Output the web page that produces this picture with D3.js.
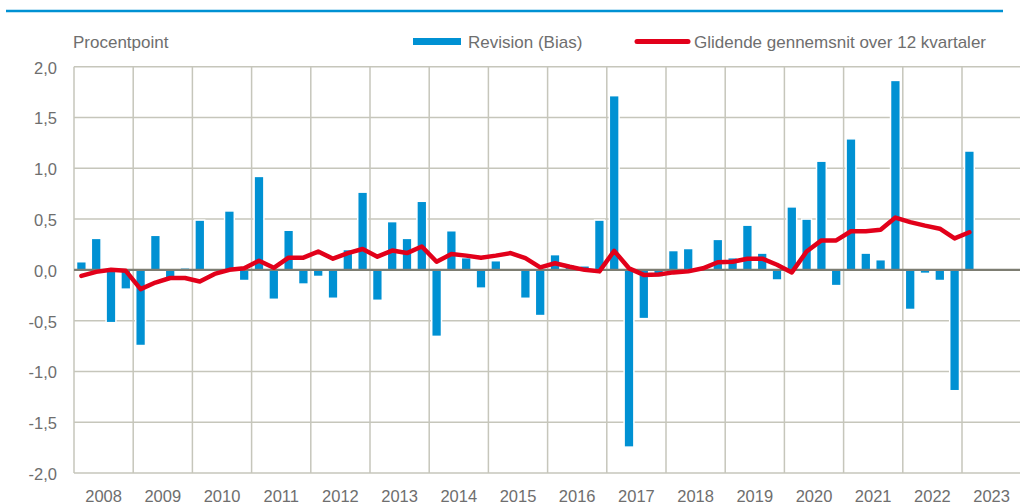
<!DOCTYPE html>
<html>
<head>
<meta charset="utf-8">
<script src="https://cdn.jsdelivr.net/npm/d3@7"></script>
<style>
  html, body { margin: 0; padding: 0; background: #fff; }
  svg { display: block; font-family: "Liberation Sans", Arial, sans-serif; }
</style>
</head>
<body>
<div id="chart"></div>
<script>
// Data (quarterly, 2008K1 - 2023K1)
const years = ['2008', '2009', '2010', '2011', '2012', '2013', '2014', '2015',
  '2016', '2017', '2018', '2019', '2020', '2021', '2022', '2023'];
const quarters = years.flatMap(y => ['K1', 'K2', 'K3', 'K4'].map(q => y + q)).slice(0, 61);

const bias = [
  0.08, 0.31, -0.52, -0.19,
  -0.745, 0.34, -0.08, 0.02,
  0.49, 0.0, 0.58, -0.105,
  0.92, -0.29, 0.39, -0.14,
  -0.065, -0.28, 0.20, 0.765,
  -0.30, 0.475, 0.31, 0.675,
  -0.655, 0.385, 0.12, -0.18,
  0.09, 0.0, -0.28, -0.45,
  0.15, 0.05, 0.04, 0.49,
  1.715, -1.745, -0.48, -0.07,
  0.19, 0.21, 0.02, 0.30,
  0.12, 0.44, 0.165, -0.10,
  0.62, 0.50, 1.07, -0.155,
  1.29, 0.165, 0.10, 1.865,
  -0.39, -0.035, -0.105, -1.19,
  1.17
];

const movingAvg = [
  -0.06, -0.02, 0.0, -0.01,
  -0.19, -0.125, -0.08, -0.08,
  -0.115, -0.04, 0.0, 0.015,
  0.09, 0.02, 0.12, 0.12,
  0.18, 0.11, 0.165, 0.205,
  0.13, 0.19, 0.165, 0.23,
  0.08, 0.155, 0.14, 0.12,
  0.14, 0.165, 0.115, 0.025,
  0.065, 0.03, 0.0, -0.015,
  0.187, 0.015, -0.05, -0.045,
  -0.025, -0.015, 0.015, 0.075,
  0.08, 0.11, 0.11, 0.05,
  -0.025, 0.18, 0.29, 0.29,
  0.38, 0.38, 0.395, 0.515,
  0.47, 0.435, 0.405, 0.31,
  0.37
];

const yTicks = [-2, -1.5, -1, -0.5, 0, 0.5, 1, 1.5, 2];
const seriesNames = ['Revision (Bias)', 'Glidende gennemsnit over 12 kvartaler'];
const unitLabel = 'Procentpoint';

// Layout
const WIDTH = 1020;
const HEIGHT = 504;
const LEFT = 74;
const YEAR_W = 59.2;
const TOP = 66.7;
const BOTTOM = 473;

const BLUE = '#0091d3';
const RED = '#e2001a';
const GRID = '#c6c6bb';
const TEXT = '#6e6e6e';

const svg = d3.select('#chart')
  .append('svg')
  .attr('width', WIDTH)
  .attr('height', HEIGHT);

// Top rule line
svg.append('line')
  .attr('x1', 6).attr('x2', 1003)
  .attr('y1', 11).attr('y2', 11)
  .attr('stroke', '#0091d3')
  .attr('stroke-width', 2.5);

const right = LEFT + YEAR_W * years.length;

const xYear = d3.scaleBand()
  .domain(years)
  .range([LEFT, right]);

const xQ = d3.scaleBand()
  .domain(quarters.concat(['2023K2', '2023K3', '2023K4']))
  .range([LEFT, right])
  .paddingInner(0.34)
  .paddingOuter(0.17);

const y = d3.scaleLinear()
  .domain([-2, 2])
  .range([BOTTOM, TOP]);

// Horizontal grid
svg.append('g')
  .selectAll('line')
  .data(yTicks.filter(d => d !== 0))
  .join('line')
  .attr('x1', LEFT).attr('x2', right)
  .attr('y1', d => y(d)).attr('y2', d => y(d))
  .attr('stroke', GRID)
  .attr('stroke-width', 1.5);

// Vertical grid (year boundaries)
svg.append('g')
  .selectAll('line')
  .data(years)
  .join('line')
  .attr('x1', d => xYear(d)).attr('x2', d => xYear(d))
  .attr('y1', TOP).attr('y2', BOTTOM)
  .attr('stroke', GRID)
  .attr('stroke-width', 1.5);

// Bars
svg.append('g')
  .selectAll('rect')
  .data(bias)
  .join('rect')
  .attr('x', (d, i) => xQ(quarters[i]))
  .attr('width', xQ.bandwidth())
  .attr('y', d => y(Math.max(0, d)))
  .attr('height', d => Math.abs(y(d) - y(0)))
  .attr('fill', BLUE)
  .attr('stroke', '#fff')
  .attr('stroke-width', 1.5);

// Zero line
svg.append('line')
  .attr('x1', LEFT).attr('x2', right)
  .attr('y1', y(0)).attr('y2', y(0))
  .attr('stroke', '#7d7d72')
  .attr('stroke-width', 2.2);

// Moving average line
const line = d3.line()
  .x((d, i) => xQ(quarters[i]) + xQ.bandwidth() / 2)
  .y(d => y(d));

svg.append('path')
  .datum(movingAvg)
  .attr('d', line)
  .attr('fill', 'none')
  .attr('stroke', RED)
  .attr('stroke-width', 4.5)
  .attr('stroke-linejoin', 'round')
  .attr('stroke-linecap', 'round');

// Y tick labels
svg.append('g')
  .selectAll('text')
  .data(yTicks)
  .join('text')
  .attr('x', 57)
  .attr('y', d => y(d) + 7)
  .attr('text-anchor', 'end')
  .attr('font-size', 16.5)
  .attr('fill', TEXT)
  .text(d => d3.format('.1f')(d).replace('.', ',').replace('−', '-'));

// Year labels
svg.append('g')
  .selectAll('text')
  .data(years)
  .join('text')
  .attr('x', d => xYear(d) + xYear.bandwidth() / 2)
  .attr('y', 502)
  .attr('text-anchor', 'middle')
  .attr('font-size', 16.5)
  .attr('fill', TEXT)
  .text(d => d);

// Unit label
svg.append('text')
  .attr('x', 73)
  .attr('y', 48)
  .attr('font-size', 17)
  .attr('fill', TEXT)
  .text(unitLabel);

// Legend
const legend = svg.append('g');
legend.append('rect')
  .attr('x', 413).attr('y', 38)
  .attr('width', 48).attr('height', 7)
  .attr('fill', BLUE);
legend.append('text')
  .attr('x', 468).attr('y', 48)
  .attr('font-size', 17)
  .attr('fill', TEXT)
  .text(seriesNames[0]);
legend.append('line')
  .attr('x1', 637).attr('x2', 688)
  .attr('y1', 41.5).attr('y2', 41.5)
  .attr('stroke', RED)
  .attr('stroke-width', 5)
  .attr('stroke-linecap', 'round');
legend.append('text')
  .attr('x', 694).attr('y', 48)
  .attr('font-size', 17)
  .attr('fill', TEXT)
  .text(seriesNames[1]);
</script>
</body>
</html>
